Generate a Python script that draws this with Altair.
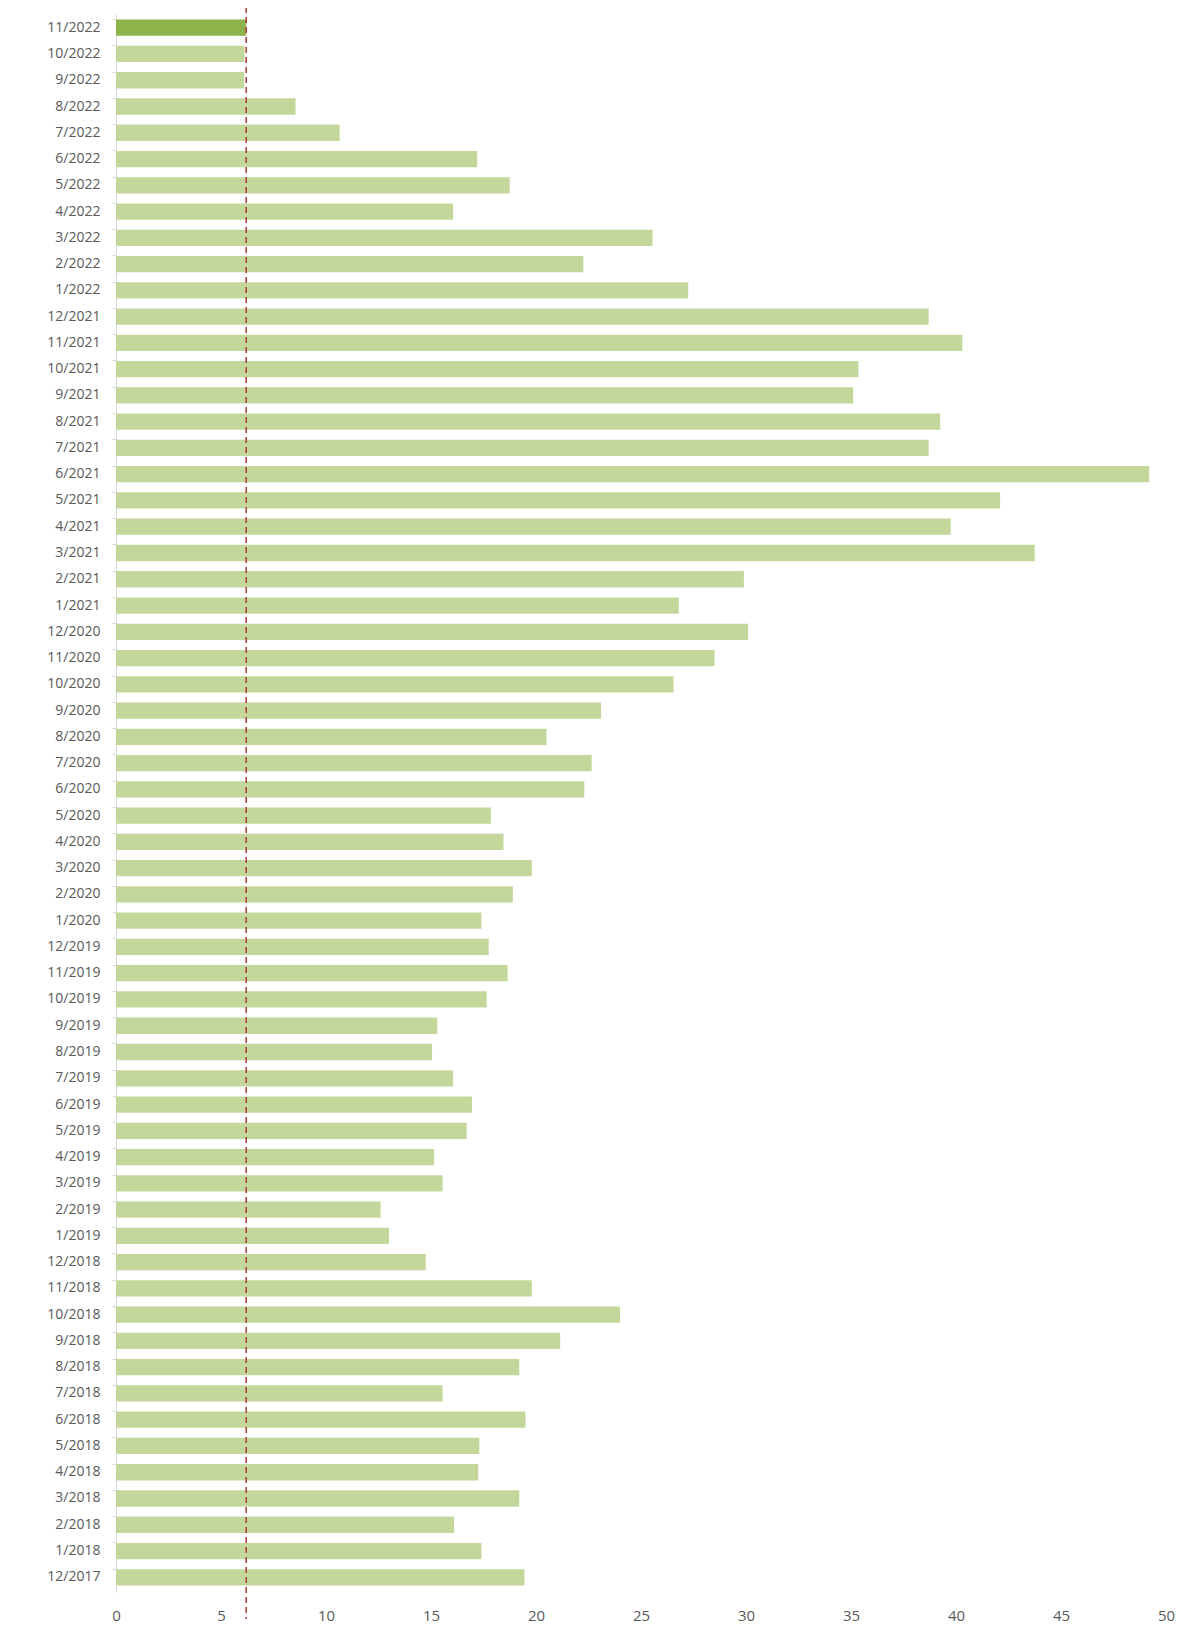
import altair as alt
import pandas as pd

months = [
    "12/2017", "1/2018", "2/2018", "3/2018", "4/2018", "5/2018", "6/2018", "7/2018",
    "8/2018", "9/2018", "10/2018", "11/2018", "12/2018", "1/2019", "2/2019", "3/2019",
    "4/2019", "5/2019", "6/2019", "7/2019", "8/2019", "9/2019", "10/2019", "11/2019",
    "12/2019", "1/2020", "2/2020", "3/2020", "4/2020", "5/2020", "6/2020", "7/2020",
    "8/2020", "9/2020", "10/2020", "11/2020", "12/2020", "1/2021", "2/2021", "3/2021",
    "4/2021", "5/2021", "6/2021", "7/2021", "8/2021", "9/2021", "10/2021", "11/2021",
    "12/2021", "1/2022", "2/2022", "3/2022", "4/2022", "5/2022", "6/2022", "7/2022",
    "8/2022", "9/2022", "10/2022", "11/2022",
]
values = [
    19.45, 17.4, 16.1, 19.2, 17.25, 17.3, 19.5, 15.55,
    19.2, 21.15, 24.0, 19.8, 14.75, 13.0, 12.6, 15.55,
    15.15, 16.7, 16.95, 16.05, 15.05, 15.3, 17.65, 18.65,
    17.75, 17.4, 18.9, 19.8, 18.45, 17.85, 22.3, 22.65,
    20.5, 23.1, 26.55, 28.5, 30.1, 26.8, 29.9, 43.75,
    39.75, 42.1, 49.2, 38.7, 39.25, 35.1, 35.35, 40.3,
    38.7, 27.25, 22.25, 25.55, 16.05, 18.75, 17.2, 10.65,
    8.55, 6.1, 6.12, 6.2,
]
highlight = ["11/2022"]
reference_value = [6.2]
x_ticks = [0, 5, 10, 15, 20, 25, 30, 35, 40, 45, 50]

df = pd.DataFrame({"month": months, "value": values})
df["hl"] = df["month"].isin(highlight).map({True: "current", False: "past"})
order = list(reversed(months))
ref_df = pd.DataFrame({"ref": reference_value})

W, H = 1050, 1579
FONT = "Open Sans"

y_enc = alt.Y(
    "month:N",
    sort=order,
    scale=alt.Scale(paddingInner=0.38, paddingOuter=0.25),
    axis=alt.Axis(
        title=None,
        labelFont=FONT,
        labelFontSize=14,
        labelColor="#595959",
        labelPadding=12,
        domainColor="#d9d9d9",
        domainWidth=1,
        tickColor="#d9d9d9",
        tickSize=4,
        bandPosition=0,
    ),
)

bars = alt.Chart(df).mark_bar().encode(
    x=alt.X(
        "value:Q",
        scale=alt.Scale(domain=[0, 50], nice=False),
        axis=alt.Axis(
            title=None,
            values=x_ticks,
            labelFont=FONT,
            labelFontSize=15,
            labelColor="#595959",
            labelPadding=16,
            labelFlush=False,
            domain=False,
            ticks=False,
            grid=False,
        ),
    ),
    y=y_enc,
    color=alt.Color(
        "hl:N",
        scale=alt.Scale(domain=["current", "past"], range=["#8DB34A", "#C4D79B"]),
        legend=None,
    ),
)

rule = alt.Chart(ref_df).mark_rule(
    color="#A83A38", strokeWidth=1.5, strokeDash=[6, 4]
).encode(
    x="ref:Q",
    y=alt.value(-16),
    y2=alt.value(H + 27),
)

chart = (
    alt.layer(bars, rule)
    .properties(
        width=W,
        height=H,
        background="white",
        padding={"left": 108, "top": 5, "right": 20, "bottom": 40},
        autosize=alt.AutoSizeParams(type="none"),
    )
    .configure_view(strokeWidth=0, stroke="transparent")
)

chart.save("out.html", embed_options={"renderer": "svg", "actions": False})
